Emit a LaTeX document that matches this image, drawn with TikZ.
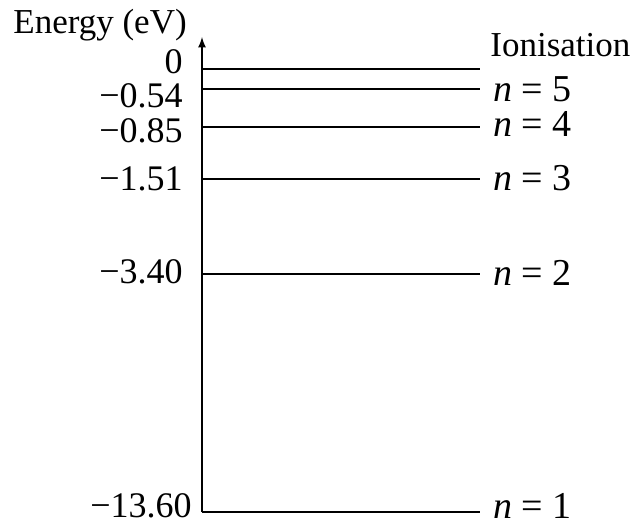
\documentclass[tikz,border=0pt]{standalone}
\usepackage{fontspec}
\setmainfont{Liberation Serif}
\usetikzlibrary{arrows, positioning}

\begin{document}
\begin{tikzpicture}[
    x=0.5pt, y=-0.5pt,
    level/.style={line width=0.8pt},
    arrow/.style={line width=0.8pt,->,>=latex},
    value/.style={anchor=east, inner sep=0pt, font=\fontsize{18}{20}\selectfont},
    state/.style={anchor=west, inner sep=0pt, font=\fontsize{19}{21}\selectfont},
    title/.style={anchor=west, inner sep=0pt, font=\fontsize{17.5}{20}\selectfont}
]
\useasboundingbox (0,0) rectangle (637,525);

% axis
\coordinate (base) at (202,512);
\coordinate (top) at (202,37);
\draw[arrow] (base) -- (top);
\node[title] (energy) at (13,25) {Energy (eV)};

% levels
\foreach \lv/\yy in {ion/69, five/89, four/127, three/179, two/274, one/512} {
  \coordinate (\lv L) at (202,\yy);
  \coordinate (\lv R) at (480,\yy);
  \draw[level] (\lv L) -- (\lv R);
}

% energies
\node[value] (e0) at (183,62) {0};
\node[value] (e5) at (183,96) {−0.54};
\node[value] (e4) at (183,131) {−0.85};
\node[value] (e3) at (183,179) {−1.51};
\node[value] (e2) at (183,272) {−3.40};
\node[value] (e1) at (192,506) {−13.60};

% states
\node[title] (ionis) at (490,45) {Ionisation};
\node[state] (n5) at (493,89) {\textit{n} = 5};
\node[state] (n4) at (493,124) {\textit{n} = 4};
\node[state] (n3) at (493,178) {\textit{n} = 3};
\node[state] (n2) at (493,273) {\textit{n} = 2};
\node[state] (n1) at (493,506) {\textit{n} = 1};
\end{tikzpicture}
\end{document}
